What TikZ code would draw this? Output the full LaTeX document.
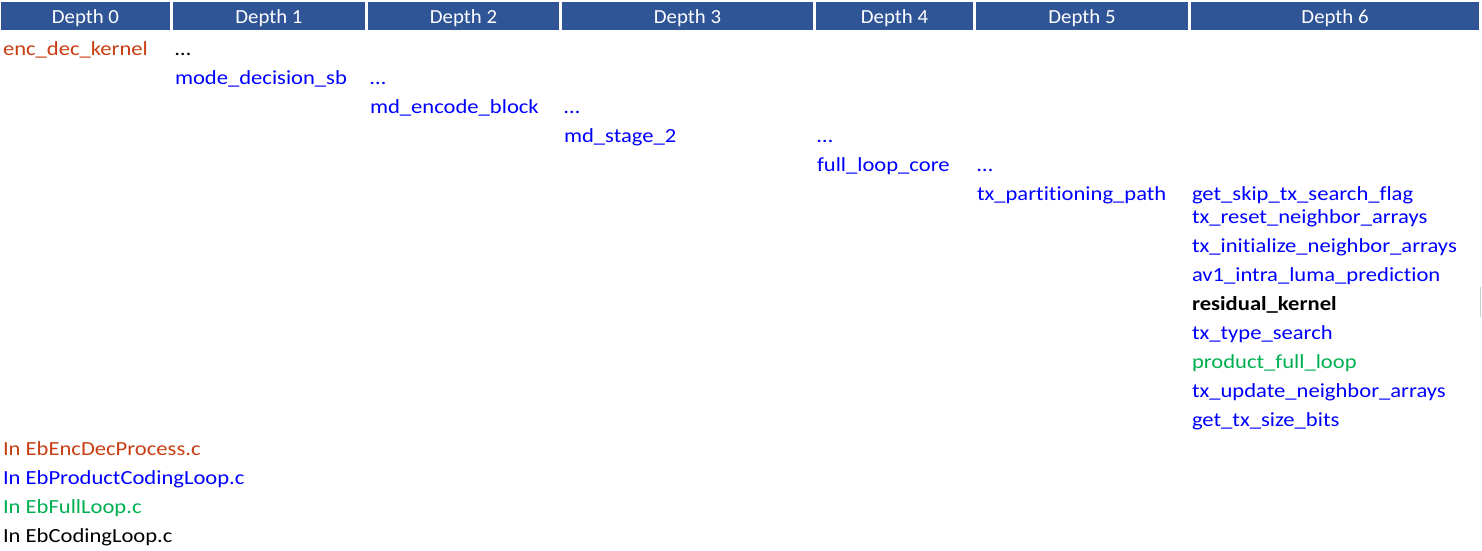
\documentclass[tikz,border=0pt]{standalone}
\usepackage{fontspec}
\setmainfont{Carlito}[Ligatures=NoCommon]
\newfontfamily\bodyfont{Carlito}[FakeStretch=1.13, Ligatures=NoCommon]
\newfontfamily\headfont{Carlito}[FakeStretch=1.04, Ligatures=NoCommon]
\definecolor{hdr}{RGB}{47,85,151}
\definecolor{fred}{RGB}{200,62,18}
\definecolor{fblue}{RGB}{0,0,255}
\definecolor{fgreen}{RGB}{0,176,80}
\definecolor{fblack}{RGB}{0,0,0}
\begin{document}
\begin{tikzpicture}[x=1pt,y=-1pt,
  font=\bodyfont\fontsize{20}{24}\selectfont,
  lbl/.style={anchor=base west, inner sep=0pt, outer sep=0pt},
  hdrtxt/.style={anchor=base, inner sep=0pt, text=white, font=\headfont\fontsize{20}{24}\selectfont},
  cred/.style={lbl, text=fred},
  cblue/.style={lbl, text=fblue},
  cgreen/.style={lbl, text=fgreen},
  cblack/.style={lbl, text=fblack}]
\useasboundingbox (0,0) rectangle (1482,550);
% header
\foreach \a/\b/\t/\n in {1/170/0/h0,173/365/1/h1,368/559/2/h2,562/813/3/h3,816/973/4/h4,976/1188/5/h5,1191/1479/6/h6}{
  \fill[hdr] (\a,2) rectangle (\b,30);
  \node[hdrtxt] (\n) at ({(\a+\b)/2},23) {Depth \t};
}
% rows
\node[cred]   (r1a) at (3,55)   {enc\_dec\_kernel};
\node[cblack] (r1b) at (175,55) {…};
\node[cblue]  (r2a) at (175,84) {mode\_decision\_sb};
\node[cblue]  (r2b) at (370,84) {…};
\node[cblue]  (r3a) at (370,113) {md\_encode\_block};
\node[cblue]  (r3b) at (564,113) {…};
\node[cblue]  (r4a) at (564,142) {md\_stage\_2};
\node[cblue]  (r4b) at (817,142) {…};
\node[cblue]  (r5a) at (817,171) {full\_loop\_core};
\node[cblue]  (r5b) at (977,171) {…};
\node[cblue]  (r6a) at (977,200) {tx\_partitioning\_path};
\node[cblue]  (d1) at (1192,200) {get\_skip\_tx\_search\_flag};
\node[cblue]  (d2) at (1192,223) {tx\_reset\_neighbor\_arrays};
\node[cblue]  (d3) at (1192,252) {tx\_initialize\_neighbor\_arrays};
\node[cblue]  (d4) at (1192,281) {av1\_intra\_luma\_prediction};
\node[cblack, font=\bodyfont\fontsize{20}{24}\selectfont\bfseries] (d5) at (1192,310) {residual\_kernel};
\node[cblue]  (d6) at (1192,339) {tx\_type\_search};
\node[cgreen] (d7) at (1192,368) {product\_full\_loop};
\node[cblue]  (d8) at (1192,397) {tx\_update\_neighbor\_arrays};
\node[cblue]  (d9) at (1192,426) {get\_tx\_size\_bits};
% legend
\node[cred]   (l1) at (3,455) {In EbEncDecProcess.c};
\node[cblue]  (l2) at (3,484) {In EbProductCodingLoop.c};
\node[cgreen] (l3) at (3,513) {In EbFullLoop.c};
\node[cblack] (l4) at (3,542) {In EbCodingLoop.c};
% small mark at right edge
\draw[line width=1pt, color=black!20] (1480.5,287) -- (1480.5,317);
\end{tikzpicture}
\end{document}
